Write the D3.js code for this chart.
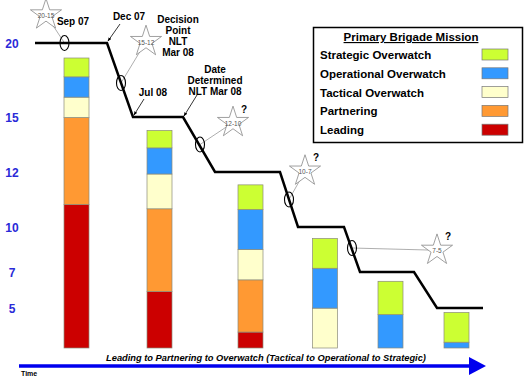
<!DOCTYPE html>
<html>
<head>
<meta charset="utf-8">
<script src="https://cdn.jsdelivr.net/npm/d3@7"></script>
<style>
  body { margin: 0; background: #fff; }
  svg { display: block; font-family: Arial, "Liberation Sans", sans-serif; }
</style>
</head>
<body>
<div id="chart"></div>
<script>
const width = 530;
const height = 377;

// mission types, bottom to top of each bar
const missions = ["Leading", "Partnering", "Tactical Overwatch", "Operational Overwatch", "Strategic Overwatch"];
const legendOrder = ["Strategic Overwatch", "Operational Overwatch", "Tactical Overwatch", "Partnering", "Leading"];
const missionColors = ["#cc0000", "#ff9933", "#ffffcc", "#3399ff", "#ccff33"];

// phase position of each bar along the timeline
const barPhase = [4.15, 12.45, 21.55, 29.0, 35.55, 42.15];
const leading = [9.9, 3.9, 1.1, 0, 0, 0];
const partnering = [6.0, 5.7, 3.6, 0, 0, 0];
const tactical = [1.4, 2.4, 2.1, 2.75, 0, 0];
const operational = [1.4, 1.8, 2.75, 2.75, 2.3, 0.4];
const strategic = [1.3, 1.2, 1.7, 2.05, 2.3, 2.05];

// brigade level step line
const levelTicks = [20, 15, 12, 10, 7, 5];
const linePhase = [0, 7.2, 9.8, 14.8, 18, 24.5, 26.3, 30.9, 32.5, 37.9, 40.2, 44.8];
const lineLevel = [20, 20, 15, 15, 12, 12, 10, 10, 7, 7, 5, 5];

// decision-point stars
const starLabels = ["20-15", "15-12", "12-10", "10-7", "7-5"];
const starQuestion = [false, false, true, true, true];
const markPhase = [2.95, 8.6, 16.5, 25.4, 31.7];
const markLevel = [20, 17.3, 13.5, 11.0, 8.6];
const starPhase = [1.1, 11.1, 19.8, 27.0, 40.2];
const starLevel = [21.9, 20.1, 14.7, 12.05, 8.45];

const svg = d3.select("#chart").append("svg")
  .attr("width", width)
  .attr("height", height);

const x = d3.scaleLinear().domain([0, 45]).range([35, 485]);
// level axis is schematic, not evenly spaced
const y = d3.scaleLinear()
  .domain([5, 7, 10, 12, 15, 20])
  .range([308, 272, 227, 172, 117, 43]);
const yBar = d3.scaleLinear().domain([0, 20]).range([348, 58]);
const color = d3.scaleOrdinal().domain(missions).range(missionColors);

// stacked bars
const rows = barPhase.map((p, i) => ({
  phase: p,
  "Leading": leading[i],
  "Partnering": partnering[i],
  "Tactical Overwatch": tactical[i],
  "Operational Overwatch": operational[i],
  "Strategic Overwatch": strategic[i]
}));
const stacked = d3.stack().keys(missions)(rows);
const barW = 25;

svg.append("g").selectAll("g")
  .data(stacked)
  .join("g")
  .attr("fill", (d) => color(d.key))
  .selectAll("rect")
  .data((d) => d.filter((s) => s[1] - s[0] > 0))
  .join("rect")
  .attr("x", (d) => x(d.data.phase) - barW / 2)
  .attr("y", (d) => yBar(d[1]))
  .attr("width", barW)
  .attr("height", (d) => yBar(d[0]) - yBar(d[1]))
  .attr("stroke", "#8a8a7a")
  .attr("stroke-width", 0.7);

// y tick labels
const yAxis = d3.axisLeft(y).tickValues(levelTicks).tickSize(0).tickPadding(0);
const gy = svg.append("g").attr("transform", "translate(19,0)").call(yAxis);
gy.select(".domain").remove();
gy.selectAll("text")
  .attr("fill", "#2a2ad8")
  .attr("font-size", 12)
  .attr("font-weight", "bold")
  .attr("text-anchor", "middle")
  .attr("dx", -7)
  .attr("dy", "0.4em");

// connectors from ellipses to stars
const marks = markPhase.map((p, i) => ({
  mx: x(p), my: y(markLevel[i]),
  sx: x(starPhase[i]), sy: y(starLevel[i]),
  label: starLabels[i], q: starQuestion[i]
}));

svg.append("g").selectAll("line")
  .data(marks)
  .join("line")
  .attr("x1", (d) => d.mx)
  .attr("y1", (d) => d.my)
  .attr("x2", (d) => d.sx)
  .attr("y2", (d) => d.sy)
  .attr("stroke", "#999")
  .attr("stroke-width", 0.8);

// step line
const lineData = linePhase.map((p, i) => [p, lineLevel[i]]);
svg.append("path")
  .datum(lineData)
  .attr("fill", "none")
  .attr("stroke", "#000")
  .attr("stroke-width", 2.5)
  .attr("stroke-linejoin", "miter")
  .attr("d", d3.line().x((d) => x(d[0])).y((d) => y(d[1])));

// ellipses on line
svg.append("g").selectAll("ellipse")
  .data(marks)
  .join("ellipse")
  .attr("cx", (d) => d.mx)
  .attr("cy", (d) => d.my)
  .attr("rx", 4.5)
  .attr("ry", 7.5)
  .attr("fill", "none")
  .attr("stroke", "#000")
  .attr("stroke-width", 1.1);

// stars
const star = d3.symbol().type(d3.symbolStar).size(300);
const stars = svg.append("g").selectAll("g")
  .data(marks)
  .join("g")
  .attr("transform", (d) => `translate(${d.sx},${d.sy})`);
stars.append("path")
  .attr("d", star)
  .attr("fill", "#fff")
  .attr("stroke", "#888")
  .attr("stroke-width", 0.8);
stars.append("text")
  .attr("y", 3)
  .attr("text-anchor", "middle")
  .attr("font-size", 6.5)
  .attr("fill", "#555")
  .text((d) => d.label);
stars.filter((d) => d.q).append("text")
  .attr("x", 8)
  .attr("y", -10)
  .attr("font-size", 10)
  .attr("font-weight", "bold")
  .text("?");

// annotations with arrows
svg.append("defs").append("marker")
  .attr("id", "ah")
  .attr("viewBox", "0 0 10 10")
  .attr("refX", 9)
  .attr("refY", 5)
  .attr("markerWidth", 5)
  .attr("markerHeight", 5)
  .attr("orient", "auto")
  .append("path")
  .attr("d", "M0,1L10,5L0,9z")
  .attr("fill", "#000");

const notes = [
  { lines: ["Sep 07"], x: 73, y: 25 },
  { lines: ["Dec 07"], x: 129, y: 20 },
  { lines: ["Decision", "Point", "NLT", "Mar 08"], x: 178, y: 23 },
  { lines: ["Jul 08"], x: 153, y: 96 },
  { lines: ["Date", "Determined", "NLT  Mar 08"], x: 215, y: 73 }
];
const noteG = svg.append("g")
  .attr("font-size", 10)
  .attr("font-weight", "bold")
  .attr("fill", "#000");
notes.forEach((n) => {
  const t = noteG.append("text")
    .attr("x", n.x)
    .attr("y", n.y)
    .attr("text-anchor", "middle");
  n.lines.forEach((l, i) => {
    t.append("tspan").attr("x", n.x).attr("dy", i === 0 ? 0 : 11).text(l);
  });
});
const arrows = [
  [120, 24, x(7.2) + 1, y(20) - 2],
  [144, 99, x(9.8) + 1, y(15) - 2],
  [197, 95, x(14.8) + 1, y(15) - 1]
];
svg.append("g").selectAll("line")
  .data(arrows)
  .join("line")
  .attr("x1", (d) => d[0])
  .attr("y1", (d) => d[1])
  .attr("x2", (d) => d[2])
  .attr("y2", (d) => d[3])
  .attr("stroke", "#000")
  .attr("stroke-width", 0.8)
  .attr("marker-end", "url(#ah)");

// legend
const legend = svg.append("g");
legend.append("rect")
  .attr("x", 313.5)
  .attr("y", 27.5)
  .attr("width", 209)
  .attr("height", 115)
  .attr("fill", "#fff")
  .attr("stroke", "#000")
  .attr("stroke-width", 1.5);
legend.append("text")
  .attr("x", 411)
  .attr("y", 41)
  .attr("text-anchor", "middle")
  .attr("font-size", 11.5)
  .attr("font-weight", "bold")
  .attr("text-decoration", "underline")
  .text("Primary Brigade Mission");
const items = legend.selectAll(".item")
  .data(legendOrder)
  .join("g")
  .attr("class", "item")
  .attr("transform", (d, i) => `translate(0,${55 + i * 18.8})`);
items.append("text")
  .attr("x", 320)
  .attr("y", 4)
  .attr("font-size", 11.5)
  .attr("font-weight", "bold")
  .text((d) => d);
items.append("rect")
  .attr("x", 482)
  .attr("y", -6)
  .attr("width", 26)
  .attr("height", 11)
  .attr("fill", (d) => color(d))
  .attr("stroke", "#777")
  .attr("stroke-width", 0.7);

// time arrow
svg.append("line")
  .attr("x1", 19)
  .attr("y1", 366)
  .attr("x2", 472)
  .attr("y2", 366)
  .attr("stroke", "#0000ee")
  .attr("stroke-width", 3.5);
svg.append("path")
  .attr("d", "M469,357L486,366L469,375Z")
  .attr("fill", "#0000ee");
svg.append("text")
  .attr("x", 266)
  .attr("y", 361)
  .attr("text-anchor", "middle")
  .attr("font-size", 9.3)
  .attr("font-weight", "bold")
  .attr("font-style", "italic")
  .text("Leading to Partnering to Overwatch  (Tactical to Operational to Strategic)");
svg.append("text")
  .attr("x", 21)
  .attr("y", 376)
  .attr("font-size", 7)
  .attr("font-weight", "bold")
  .text("Time");
</script>
</body>
</html>
